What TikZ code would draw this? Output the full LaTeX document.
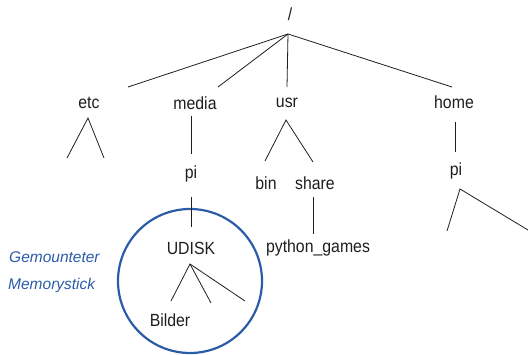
\documentclass[tikz,border=0pt]{standalone}
\usepackage{fontspec}
\setmainfont{Liberation Sans}
\newfontfamily\narrowfont{Liberation Sans}[FakeStretch=0.9]
\definecolor{stickblue}{HTML}{2B5CA8}
\definecolor{ink}{HTML}{1E1E1E}
\begin{document}
\begin{tikzpicture}[x=1pt,y=-1pt,
  lbl/.style={inner sep=0pt, text=ink, font=\narrowfont\fontsize{17.6}{19}\selectfont},
  edge/.style={draw=ink, line width=0.8pt},
  note/.style={inner sep=0pt, anchor=west, text=stickblue, font=\fontsize{15.5}{18}\selectfont\itshape}]
\useasboundingbox (0,0) rectangle (528,355);
% labels
\node[lbl] (root) at (290,14) {/};
\node[lbl] (etc) at (89,103) {etc};
\node[lbl] (media) at (195,103) {media};
\node[lbl] (usr) at (287,103) {usr};
\node[lbl] (home) at (454,102) {home};
\node[lbl] (mpi) at (191,174) {pi};
\node[lbl] (bin) at (266,183) {bin};
\node[lbl] (share) at (315,183) {share};
\node[lbl] (pyg) at (318,248) {python\_games};
\node[lbl] (hpi) at (456,171) {pi};
\node[lbl] (udisk) at (191,248) {UDISK};
\node[lbl] (bilder) at (170,320) {Bilder};
\node[note] (g1) at (9,257) {Gemounteter};
\node[note] (g2) at (8,285) {Memorystick};
% circle
\node[draw=stickblue, line width=2.2pt, circle, minimum size=144pt, inner sep=0pt] (stick) at (190,281) {};
% connector points
\coordinate (j) at (288,34);
\coordinate (jetc) at (128,87);
\coordinate (jmedia) at (218,87);
\coordinate (jusr) at (287,87);
\coordinate (jhome) at (452,87);
\coordinate (etcA) at (88,118);
\coordinate (etcL) at (67,158);
\coordinate (etcR) at (104,158);
\coordinate (mT) at (191,116);
\coordinate (mB) at (191,154);
\coordinate (usrA) at (286,120);
\coordinate (usrL) at (265,161);
\coordinate (usrR) at (313,162);
\coordinate (shT) at (313,197);
\coordinate (shB) at (313,234);
\coordinate (hT) at (455,122);
\coordinate (hB) at (455,152);
\coordinate (hpA) at (460,189);
\coordinate (hpL) at (447,231);
\coordinate (hpR) at (528,230);
\coordinate (piT) at (191,197);
\coordinate (piB) at (191,227);
\coordinate (uA) at (190,264);
\coordinate (uL) at (171,301);
\coordinate (uM) at (211,303);
\coordinate (uR) at (245,301);
% connectors
\draw[edge] (jetc) -- (j) -- (jhome);
\draw[edge] (j) -- (jmedia);
\draw[edge] (j) -- (jusr);
\draw[edge] (etcL) -- (etcA) -- (etcR);
\draw[edge] (mT) -- (mB);
\draw[edge] (usrL) -- (usrA) -- (usrR);
\draw[edge] (shT) -- (shB);
\draw[edge] (hT) -- (hB);
\draw[edge] (hpL) -- (hpA) -- (hpR);
\draw[edge] (piT) -- (piB);
\draw[edge] (uL) -- (uA) -- (uR);
\draw[edge] (uA) -- (uM);
\end{tikzpicture}
\end{document}
